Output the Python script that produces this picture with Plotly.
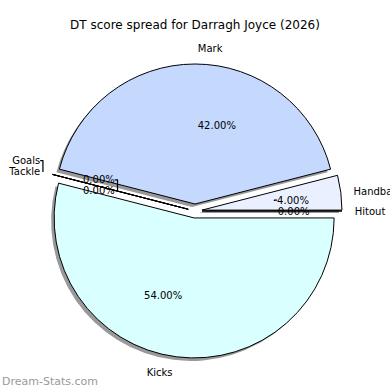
import plotly.graph_objects as go

categories = ["Hitout", "Handball", "Mark", "Tackle", "Goals", "Kicks"]
values = [0, 4, 42, 0, 0, 54]
colors = ["#E0EBFF", "#EAF0FF", "#C5D9FF", "#D0E0FF", "#D5E5FF", "#D9FFFF"]
pulls = [0.05] * len(values)
pct_text = ["%.2f%%" % v for v in values]

W = 390.0
cx, cy = 195.0, 179.0


def dom(half, dx=0.0, dy=0.0):
    return dict(x=[(cx + dx - half) / W, (cx + dx + half) / W],
                y=[(cy + dy - half) / W, (cy + dy + half) / W])


common = dict(labels=categories, values=values, sort=False, direction="counterclockwise",
              rotation=90, pull=pulls, showlegend=False, hoverinfo="skip", automargin=False)
clear = ["rgba(0,0,0,0)"] * len(values)
font = dict(family="DejaVu Sans", size=10, color="#000000")

fig = go.Figure()
# shadow
fig.add_trace(go.Pie(**common, domain=dom(147, -3, -3),
                     marker=dict(colors=["#999999"] * len(values), line=dict(width=0)),
                     textinfo="none"))
# main pie
fig.add_trace(go.Pie(**common, domain=dom(147),
                     marker=dict(colors=colors, line=dict(color="#000000", width=1)),
                     textinfo="none"))
# percentages, placed around an inner ring
fig.add_trace(go.Pie(**common, domain=dom(80),
                     marker=dict(colors=clear, line=dict(width=0)),
                     text=pct_text, textinfo="text", textposition="outside",
                     textfont=font))
# category labels, placed around an outer ring
fig.add_trace(go.Pie(**common, domain=dom(157),
                     marker=dict(colors=clear, line=dict(width=0)),
                     textinfo="label", textposition="outside",
                     textfont=font))

fig.update_layout(
    width=390, height=390, margin=dict(l=0, r=0, t=0, b=0, autoexpand=False),
    paper_bgcolor="white", plot_bgcolor="white",
    title=dict(text="DT score spread for Darragh Joyce (2026)", x=0.5, xanchor="center",
               y=1 - 25 / W, yanchor="middle",
               font=dict(family="DejaVu Sans", size=12, color="#000000")),
    annotations=[dict(text="Dream-Stats.com", x=0, y=0.0, xref="paper", yref="paper",
                      xanchor="left", yanchor="bottom", yshift=0, showarrow=False,
                      font=dict(family="DejaVu Sans", size=11, color="#999999"))],
)
fig.write_html("out.html")
